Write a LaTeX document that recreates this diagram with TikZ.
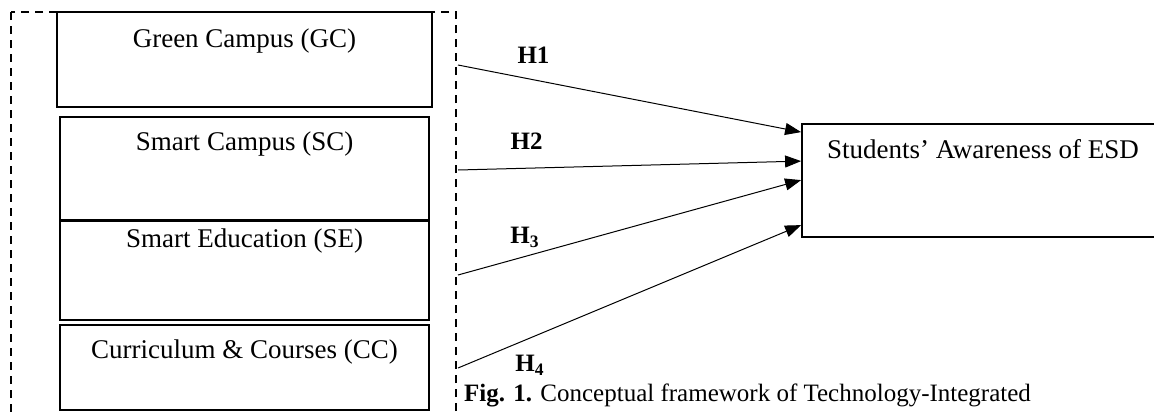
\documentclass[tikz,border=0pt]{standalone}
\usepackage{fontspec}
\setmainfont{Liberation Serif}
\usetikzlibrary{arrows.meta}

\begin{document}
\begin{tikzpicture}[x=0.5pt, y=-0.5pt, font=\fontsize{12.5pt}{15pt}\selectfont,
  box/.style={draw, line width=0.9pt, minimum width=184.5pt},
  title/.style={anchor=north, yshift=-4.5pt, font=\fontsize{13.5pt}{16pt}\selectfont},
  hyp/.style={font=\fontsize{12.5pt}{15pt}\selectfont\bfseries},
  link/.style={-{Triangle[length=8pt,width=6pt]}, line width=0.5pt}]
  \useasboundingbox (0,0) rectangle (1154,412);

  \draw[dash pattern=on 4pt off 3pt, line width=0.8pt] (11,12) rectangle (456,430);

  \node[box, minimum width=187.5pt, minimum height=47.5pt, label={[title, yshift=-1pt]north:Green Campus (GC)}] (gc) at (244.5,59.5) {};
  \node[box, minimum height=51.5pt, label={[title]north:Smart Campus (SC)}] (sc) at (244.5,168.5) {};
  \node[box, minimum height=49.5pt, label={[title, yshift=3.5pt]north:Smart Education (SE)}] (se) at (244.5,270.5) {};
  \node[box, minimum height=42.5pt, label={[title]north:Curriculum \& Courses (CC)}] (cc) at (244.5,367.5) {};
  \node[box, minimum width=181pt, minimum height=56.5pt, label={[title]north:Students’ Awareness of ESD}] (esd) at (983,180.5) {};

  \coordinate (s1) at (458,65);
  \coordinate (s2) at (458,170);
  \coordinate (s3) at (458,275);
  \coordinate (s4) at (458,368);

  \draw[link] (s1) -- ([yshift=-4.5pt]esd.north west) node[hyp, above=4.5pt, pos=0.22] {H1};
  \draw[link] (s2) -- ([yshift=-19pt]esd.north west) node[hyp, above=6pt, pos=0.2] {H2};
  \draw[link] (s3) -- ([yshift=-28.5pt]esd.north west) node[hyp, above=1pt, pos=0.195] {H\textsubscript{3}};
  \draw[link] (s4) -- ([yshift=-51pt]esd.north west) node[hyp, below=5pt, pos=0.21] {H\textsubscript{4}};

  \node[anchor=base west] (cap) at (457,401) {\textbf{Fig. 1.} Conceptual framework of Technology-Integrated};
\end{tikzpicture}
\end{document}
